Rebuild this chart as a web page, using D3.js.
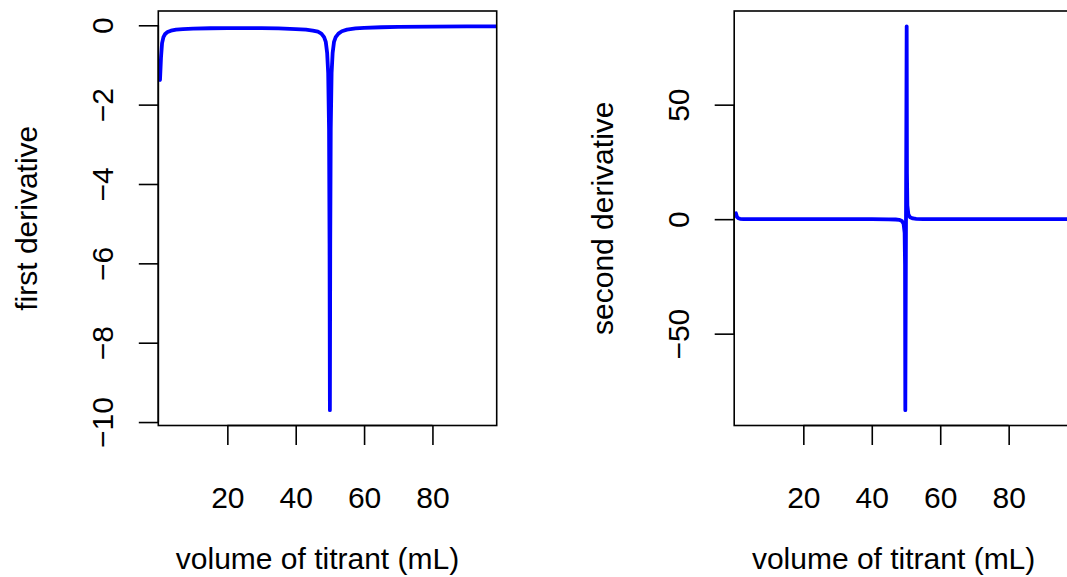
<!DOCTYPE html>
<html>
<head>
<meta charset="utf-8">
<script src="https://cdn.jsdelivr.net/npm/d3@7"></script>
<style>
  html, body { margin: 0; padding: 0; background: #ffffff; }
  svg { display: block; }
  text { font-family: "Liberation Sans", Arial, Helvetica, sans-serif; fill: #000; }
</style>
</head>
<body>
<svg id="chart" width="1067" height="577"></svg>
<script>
// ---- data ----
const volume1 = [0.3, 0.6, 0.9, 1.3, 1.8, 2.5, 3.5, 5, 7, 10, 15, 20, 25, 30, 35, 40, 43, 45, 46.5, 47.5, 48.3, 48.8, 49.2, 49.5, 49.75, 49.9, 50.0, 50.1, 50.25, 50.5, 50.8, 51.2, 51.7, 52.5, 53.5, 55, 57.5, 60, 65, 70, 80, 90, 98.8];
const firstDerivative = [-1.38, -0.80, -0.45, -0.30, -0.22, -0.17, -0.135, -0.11, -0.095, -0.083, -0.075, -0.07, -0.07, -0.072, -0.08, -0.095, -0.11, -0.135, -0.16, -0.21, -0.30, -0.42, -0.70, -1.20, -2.6, -5.5, -9.70, -5.5, -2.6, -1.20, -0.70, -0.42, -0.30, -0.21, -0.15, -0.11, -0.08, -0.065, -0.05, -0.042, -0.035, -0.03, -0.027];

const volume2 = [0.3, 0.6, 1.0, 1.5, 2.5, 4, 10, 20, 30, 40, 45, 47, 48, 48.8, 49.3, 49.6, 49.72, 49.8, 50.0, 50.2, 50.28, 50.4, 50.7, 51.2, 52, 53, 55, 60, 70, 80, 98.8];
const secondDerivative = [2.6, 1.0, 0.4, 0.15, 0.05, 0.02, 0.0, 0.0, 0.0, -0.02, -0.06, -0.15, -0.3, -0.8, -2.0, -6, -20, -83.4, 0.0, 84.2, 20, 6, 2.0, 0.8, 0.3, 0.15, 0.06, 0.02, 0.005, 0.0, 0.0];

const xTicks = [20, 40, 60, 80];
const yTicks1 = [0, -2, -4, -6, -8, -10];
const yTicks2 = [-50, 0, 50];
const xDomain = [-0.2, 98.8];

const xLabel = "volume of titrant (mL)";
const yLabel1 = "first derivative";
const yLabel2 = "second derivative";

// ---- drawing ----
const svg = d3.select("#chart");
svg.append("rect").attr("width", 1067).attr("height", 577).attr("fill", "#fff");

const FONT = 30;
const plotTop = 11, plotBottom = 425.5;

function padded(vals) {
  const [lo, hi] = d3.extent(vals);
  const e = (hi - lo) * 0.04;
  return [lo - e, hi + e];
}

function panel(id, left, right, xs, ys, yTicks, yLabel) {
  const g = svg.append("g");
  const x = d3.scaleLinear().domain(xDomain).range([left, right]);
  const y = d3.scaleLinear().domain(padded(ys)).range([plotBottom, plotTop]);

  g.append("clipPath").attr("id", "clip" + id)
    .append("rect").attr("x", left).attr("y", plotTop)
    .attr("width", right - left).attr("height", plotBottom - plotTop);

  const line = d3.line().x((d, i) => x(xs[i])).y(d => y(d));
  g.append("path")
    .datum(ys)
    .attr("clip-path", "url(#clip" + id + ")")
    .attr("d", line)
    .attr("fill", "none")
    .attr("stroke", "#0000ff")
    .attr("stroke-width", 3.8)
    .attr("stroke-linejoin", "round")
    .attr("stroke-linecap", "round");

  // box
  g.append("rect")
    .attr("x", left).attr("y", plotTop)
    .attr("width", right - left).attr("height", plotBottom - plotTop)
    .attr("fill", "none").attr("stroke", "#000").attr("stroke-width", 1.6);

  // x axis
  const xa = g.append("g").attr("transform", `translate(0,${plotBottom})`)
    .call(d3.axisBottom(x).tickValues(xTicks).tickSize(19.5).tickPadding(0).tickFormat(d3.format("d")));
  xa.select(".domain").attr("d", `M${x(xTicks[0])},0H${x(xTicks[xTicks.length - 1])}`)
    .attr("stroke", "#000").attr("stroke-width", 1.6);
  xa.selectAll(".tick line").attr("stroke", "#000").attr("stroke-width", 1.6);
  xa.selectAll(".tick text")
    .attr("y", 82).attr("dy", null)
    .style("font-size", FONT + "px")
    .style("font-family", "Liberation Sans, Arial, sans-serif");

  // y axis
  const ya = g.append("g").attr("transform", `translate(${left},0)`)
    .call(d3.axisLeft(y).tickValues(yTicks).tickSize(19.5).tickPadding(0)
      .tickFormat(d => d < 0 ? "\u2212" + Math.abs(d) : String(d)));
  ya.select(".domain").attr("d", `M0,${y(yTicks[0])}V${y(yTicks[yTicks.length - 1])}`)
    .attr("stroke", "#000").attr("stroke-width", 1.6);
  ya.selectAll(".tick line").attr("stroke", "#000").attr("stroke-width", 1.6);
  ya.selectAll(".tick text")
    .attr("x", null).attr("dy", null)
    .attr("text-anchor", "middle")
    .attr("transform", "translate(-45,0) rotate(-90)")
    .style("font-size", FONT + "px")
    .style("font-family", "Liberation Sans, Arial, sans-serif");

  // titles
  g.append("text")
    .attr("x", (left + right) / 2 - 10).attr("y", 569)
    .attr("text-anchor", "middle")
    .style("font-size", FONT + "px")
    .text(xLabel);
  g.append("text")
    .attr("transform", `translate(${left - 121.3},${(plotTop + plotBottom) / 2}) rotate(-90)`)
    .attr("text-anchor", "middle")
    .style("font-size", FONT + "px")
    .text(yLabel);
}

panel(1, 158.3, 496.7, volume1, firstDerivative, yTicks1, yLabel1);
panel(2, 734.2, 1073, volume2, secondDerivative, yTicks2, yLabel2);
</script>
</body>
</html>
